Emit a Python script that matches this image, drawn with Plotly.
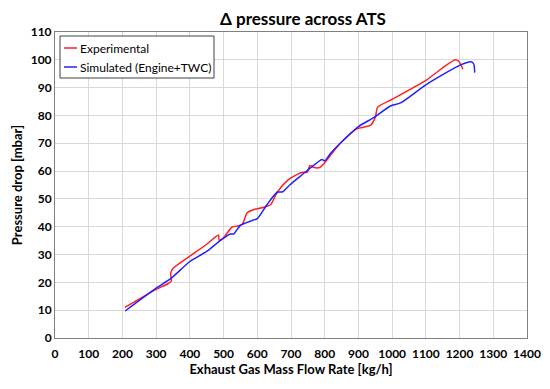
import plotly.graph_objects as go

exp_x = [207, 300, 335, 345, 343, 350, 400, 450, 485, 487, 500, 525, 540, 555, 570, 590, 620, 640, 659, 689, 729,
         748, 756, 768, 785, 800, 846, 895, 935, 950, 957, 1000, 1100, 1162, 1188, 1198, 1210]
exp_y = [11, 17.5, 19.5, 20.5, 23.3, 25, 29.4, 33.7, 37, 35.2, 36, 39.9, 40.2, 40.8, 45, 46.2, 47, 48, 52.4, 56.6, 59.4,
         59.6, 62, 61.3, 61.3, 63, 70, 75.2, 76.4, 79.3, 83, 85.8, 92.6, 98.2, 100, 99.4, 96.6]

sim_x = [208, 300, 345, 400, 450, 490, 520, 530, 550, 584, 600, 629, 659, 674, 698, 728, 748, 792, 800, 817, 846,
         900, 945, 995, 1025, 1100, 1200, 1234, 1242, 1245]
sim_y = [9.7, 17.9, 21.5, 27.5, 31.1, 35, 37.4, 37.4, 40.5, 42.2, 42.9, 48, 52.4, 52.5, 55.2, 58.2, 60.2, 64.2, 63.6,
         66.3, 70, 76, 79.2, 83.4, 84.5, 91, 98, 99.3, 98.5, 95.4]

x_ticks = list(range(0, 1401, 100))
y_ticks = list(range(0, 111, 10))
series_names = ["Experimental", "Simulated (Engine+TWC)"]
series_colors = ["#ff2020", "#2020ff"]

FONT = "Lato"
W, H = 550, 389
ML, MR, MT, MB = 47, 31, 24, 59
PW, PH = W - ML - MR, H - MT - MB


def px_x(p):
    return (p - ML) / PW


def px_y(p):
    return (H - MB - p) / PH


fig = go.Figure()
for xs, ys, nm, col in [(exp_x, exp_y, series_names[0], series_colors[0]),
                        (sim_x, sim_y, series_names[1], series_colors[1])]:
    fig.add_trace(go.Scatter(x=xs, y=ys, mode="lines", name=nm, showlegend=False,
                             line=dict(color=col, width=1.5, shape="spline", smoothing=0.6)))

# custom legend (short line samples like the reference)
LX0, LX1, LY0, LY1 = 52, 206, 28, 70
shapes = [dict(type="rect", xref="paper", yref="paper", x0=px_x(LX0), x1=px_x(LX1), y0=px_y(LY1), y1=px_y(LY0),
               line=dict(color="#404040", width=1), fillcolor="white", layer="above")]
annotations = []
for i, (nm, col) in enumerate(zip(series_names, series_colors)):
    yc = LY0 + 12 + i * 19
    shapes.append(dict(type="line", xref="paper", yref="paper", x0=px_x(LX0 + 4), x1=px_x(LX0 + 17),
                       y0=px_y(yc), y1=px_y(yc), line=dict(color=col, width=1.5), layer="above"))
    annotations.append(dict(text=nm, xref="paper", yref="paper", x=px_x(LX0 + 18), y=px_y(yc),
                            xanchor="left", yanchor="middle", showarrow=False,
                            font=dict(family=FONT, size=12, color="black")))

annotations.append(dict(text="<b>Δ pressure across ATS</b>", x=px_x(295), y=1.0, xref="paper", yref="paper",
                        yshift=1, xanchor="center", yanchor="bottom", showarrow=False,
                        font=dict(family=FONT, size=17, color="black")))

fig.update_layout(
    width=W, height=H,
    margin=dict(l=ML, r=MR, t=MT, b=MB, pad=0, autoexpand=False),
    paper_bgcolor="white", plot_bgcolor="white",
    font=dict(family=FONT, size=12, color="black"),
    showlegend=False,
    shapes=shapes,
    annotations=annotations,
)
fig.update_xaxes(range=[0, 1400], tickvals=x_ticks, ticktext=[f"<b>{v}</b>" for v in x_ticks],
                 showgrid=True, gridcolor="#d9d9d9", gridwidth=1, automargin=False,
                 showline=True, linecolor="#808080", linewidth=1, mirror=True,
                 ticks="", zeroline=False, tickfont=dict(family=FONT, size=12), ticklabelstandoff=5,
                 title=dict(text="<b>Exhaust Gas Mass Flow Rate [kg/h]</b>", font=dict(family=FONT, size=13), standoff=3))
fig.update_yaxes(range=[0, 110], tickvals=y_ticks, ticktext=[f"<b>{v}</b>" for v in y_ticks],
                 showgrid=True, gridcolor="#d9d9d9", gridwidth=1, automargin=False,
                 showline=True, linecolor="#808080", linewidth=1, mirror=True,
                 ticks="", zeroline=False, tickfont=dict(family=FONT, size=12),
                 title=dict(text="<b>Pressure drop [mbar]</b>", font=dict(family=FONT, size=13), standoff=5))

fig.write_html("out.html")
